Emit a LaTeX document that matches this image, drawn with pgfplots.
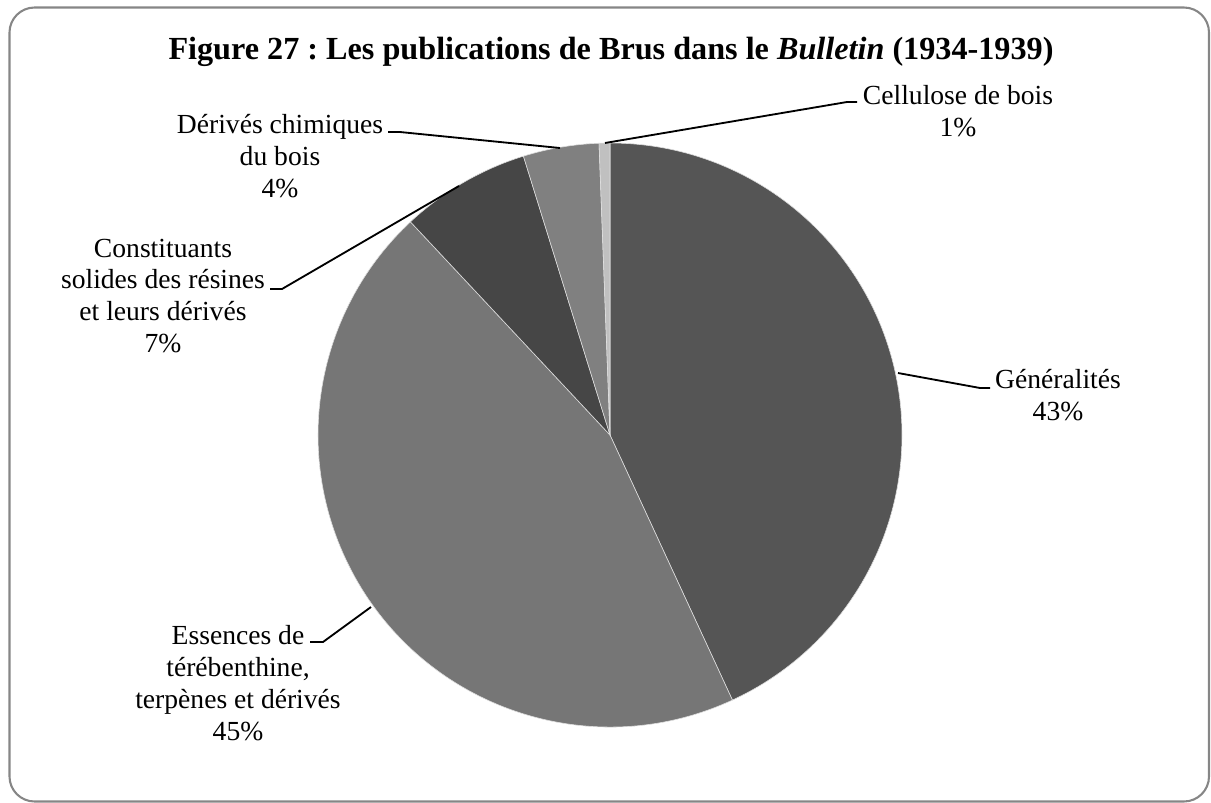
\documentclass[border=0pt]{standalone}
\usepackage{fontspec}
\setmainfont{Liberation Serif}
\usepackage{pgfplots}
\pgfplotsset{compat=1.18}
\frenchspacing

\definecolor{cGen}{HTML}{555555}
\definecolor{cEss}{HTML}{767676}
\definecolor{cCon}{HTML}{464646}
\definecolor{cDer}{HTML}{808080}
\definecolor{cCel}{HTML}{C0C0C0}
\definecolor{cBorder}{HTML}{868686}

% publication counts
\def\nGen{72}  % Généralités
\def\nEss{75}  % Essences de térébenthine, terpènes et dérivés
\def\nCon{12}  % Constituants solides des résines et leurs dérivés
\def\nDer{7}   % Dérivés chimiques du bois
\def\nCel{1}   % Cellulose de bois

\pgfmathsetmacro\total{\nGen+\nEss+\nCon+\nDer+\nCel}
\pgfmathsetmacro\aA{90}
\pgfmathsetmacro\aB{\aA-360/\total*\nGen}
\pgfmathsetmacro\aC{\aB-360/\total*\nEss}
\pgfmathsetmacro\aD{\aC-360/\total*\nCon}
\pgfmathsetmacro\aE{\aD-360/\total*\nDer}
\pgfmathsetmacro\aF{\aE-360/\total*\nCel}
\def\R{126.96pt}

\begin{document}
\frenchspacing
\begin{tikzpicture}
\begin{axis}[
  x=0.4348pt, y=0.4348pt,
  xmin=0, xmax=1211, ymin=0, ymax=803,
  y dir=reverse,
  hide axis, clip=false,
  enlargelimits=false,
]
\path (axis cs:0,0) rectangle (axis cs:1211,803);
\draw[cBorder, line width=0.9pt, rounded corners=10.9pt] (axis cs:9.5,7.5) rectangle (axis cs:1209,801.5);

% pie slices
\fill[cGen, draw=white!75!gray, line width=0.25pt] (axis cs:610,435) -- ++(\aA:\R) arc[start angle=\aA, end angle=\aB, radius=\R] -- cycle;
\fill[cEss, draw=white!75!gray, line width=0.25pt] (axis cs:610,435) -- ++(\aB:\R) arc[start angle=\aB, end angle=\aC, radius=\R] -- cycle;
\fill[cCon, draw=white!75!gray, line width=0.25pt] (axis cs:610,435) -- ++(\aC:\R) arc[start angle=\aC, end angle=\aD, radius=\R] -- cycle;
\fill[cDer, draw=white!75!gray, line width=0.25pt] (axis cs:610,435) -- ++(\aD:\R) arc[start angle=\aD, end angle=\aE, radius=\R] -- cycle;
\fill[cCel, draw=white!75!gray, line width=0.25pt] (axis cs:610,435) -- ++(\aE:\R) arc[start angle=\aE, end angle=\aF, radius=\R] -- cycle;

% leader lines
\draw[black, line width=0.8pt] (axis cs:605,143) -- (axis cs:847,102) -- (axis cs:857,102);
\draw[black, line width=0.8pt] (axis cs:388,132) -- (axis cs:400,132) -- (axis cs:560,148);
\draw[black, line width=0.8pt] (axis cs:270,289) -- (axis cs:282,289) -- (axis cs:459,186);
\draw[black, line width=0.8pt] (axis cs:898,373) -- (axis cs:980,388) -- (axis cs:990,388);
\draw[black, line width=0.8pt] (axis cs:310,642) -- (axis cs:323,642) -- (axis cs:371,607);

% labels
\node[anchor=base, font=\fontsize{14}{16}\selectfont\bfseries] at (axis cs:611,59)
  {Figure 27 : Les publications de Brus dans le \textit{Bulletin} (1934-1939)};
\node[align=center, font=\fontsize{12}{13.9}\selectfont] at (axis cs:958,111) {Cellulose de bois\\1\%};
\node[align=center, font=\fontsize{12}{13.9}\selectfont] at (axis cs:280,156) {Dérivés chimiques\\du bois\\4\%};
\node[align=center, font=\fontsize{12}{13.9}\selectfont] at (axis cs:163,296) {Constituants\\solides des résines\\et leurs dérivés\\7\%};
\node[align=center, font=\fontsize{12}{13.9}\selectfont] at (axis cs:1058,395) {Généralités\\43\%};
\node[align=center, font=\fontsize{12}{13.9}\selectfont] at (axis cs:238,683) {Essences de\\térébenthine,\\terpènes et dérivés\\45\%};
\end{axis}
\end{tikzpicture}
\end{document}
